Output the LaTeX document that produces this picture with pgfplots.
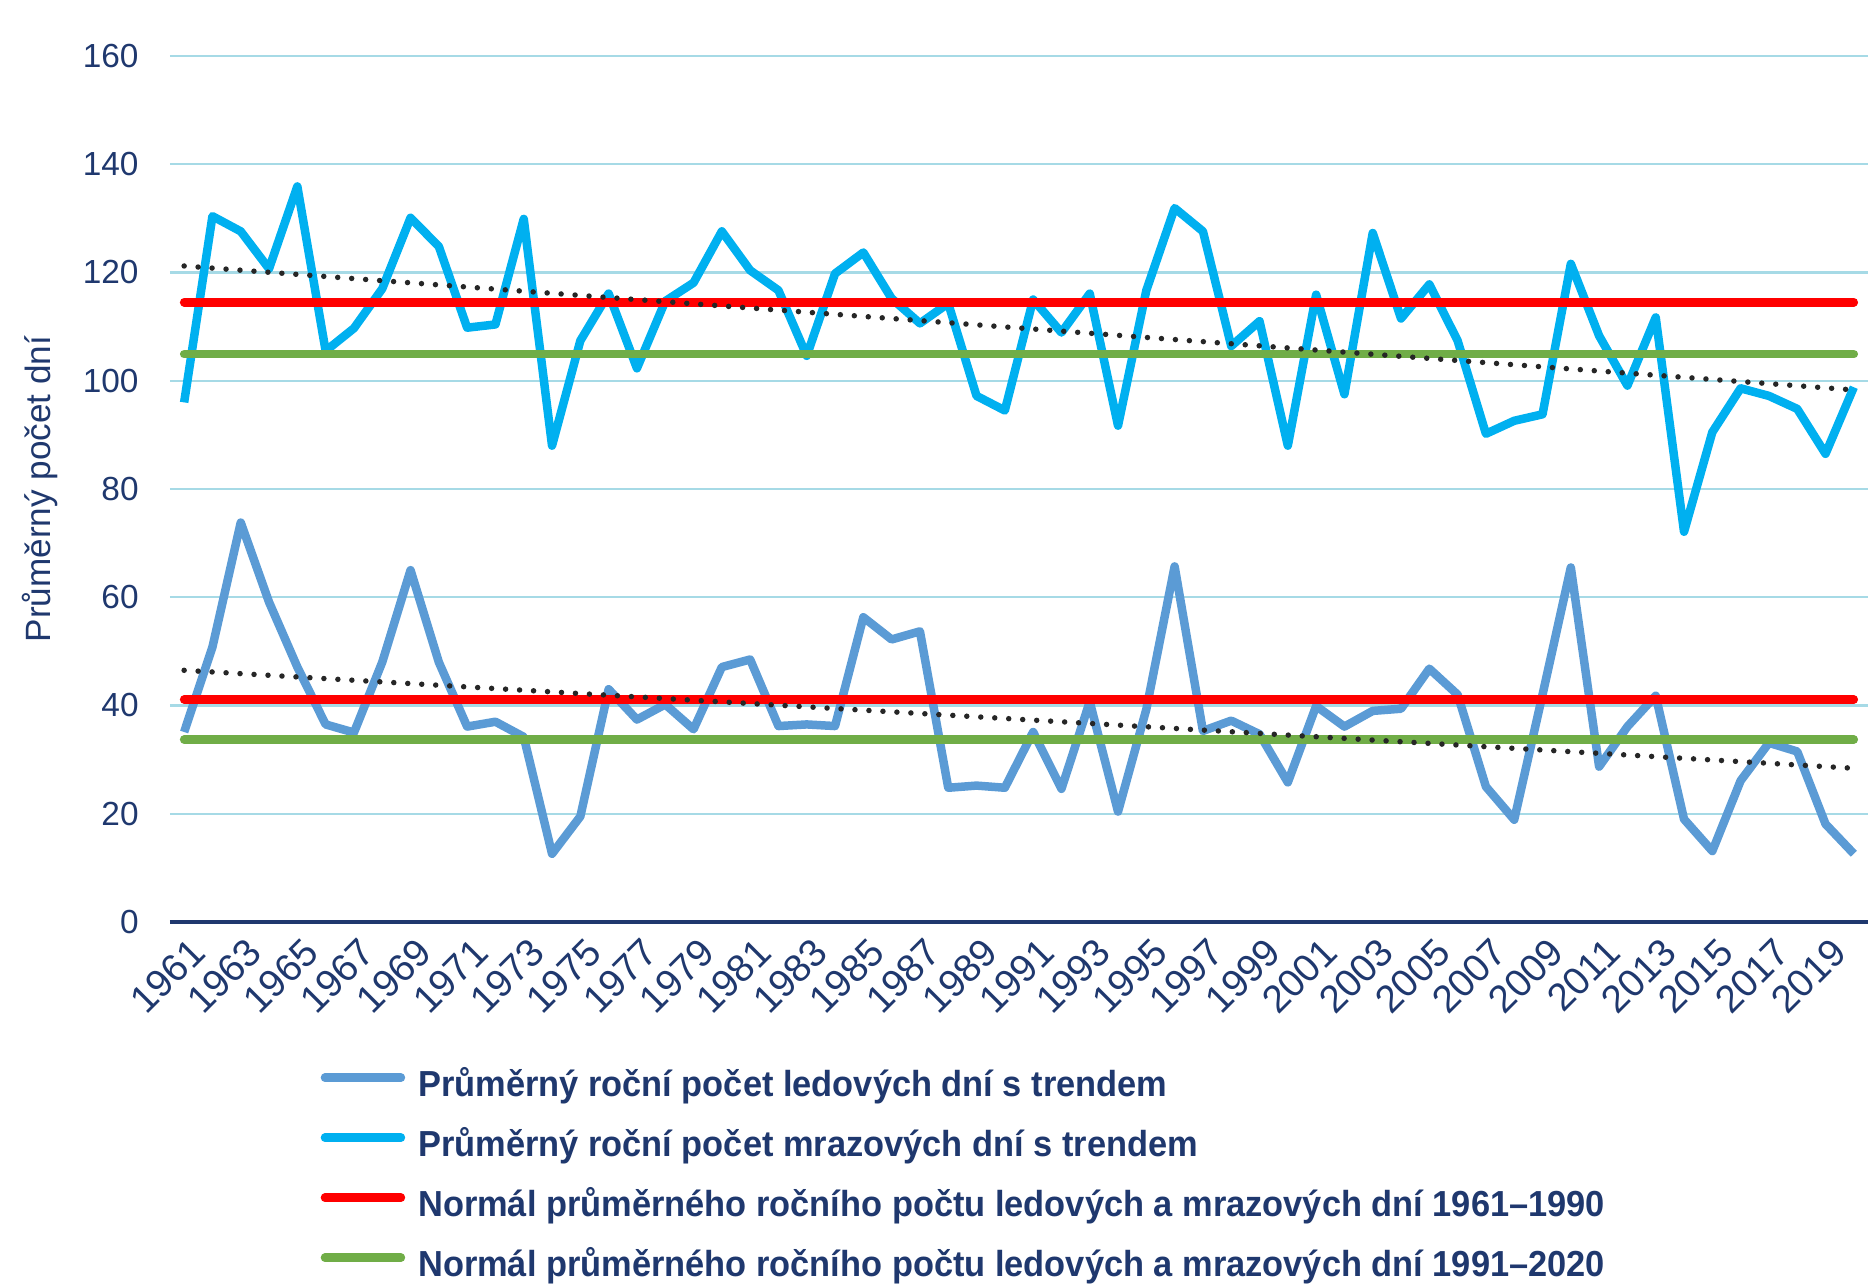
\documentclass[border=0pt]{standalone}
\usepackage{fontspec}
\setmainfont{Liberation Sans}
\newfontfamily\legfont[FakeStretch=0.95]{Liberation Sans}
\usepackage{pgfplots}
\pgfplotsset{compat=1.18}
\definecolor{navy}{RGB}{31,56,110}
\definecolor{gridc}{RGB}{166,218,230}
\definecolor{iceblue}{RGB}{91,155,213}
\definecolor{frostblue}{RGB}{0,176,240}
\definecolor{normred}{RGB}{255,0,0}
\definecolor{normgreen}{RGB}{112,173,71}

\pgfplotstableread{
year frost ice
1961 96.0 35.1
1962 130.4 50.8
1963 127.6 73.8
1964 120.7 59.1
1965 135.9 47.1
1966 105.5 36.5
1967 109.7 35.0
1968 117.0 48.0
1969 130.1 65.0
1970 124.8 48.0
1971 109.8 36.1
1972 110.4 37.0
1973 129.9 34.2
1974 88.0 12.6
1975 107.4 19.5
1976 116.1 43.0
1977 102.3 37.4
1978 114.7 40.2
1979 118.1 35.6
1980 127.6 47.1
1981 120.4 48.5
1982 116.7 36.2
1983 104.6 36.5
1984 119.8 36.2
1985 123.7 56.3
1986 115.2 52.2
1987 110.6 53.7
1988 114.3 24.8
1989 97.2 25.2
1990 94.5 24.8
1991 115.0 35.1
1992 108.9 24.6
1993 116.1 40.7
1994 91.7 20.4
1995 116.7 39.3
1996 131.9 65.7
1997 127.6 35.3
1998 106.4 37.2
1999 111.0 34.7
2000 88.0 25.8
2001 115.9 39.9
2002 97.5 36.1
2003 127.3 39.0
2004 111.5 39.4
2005 117.8 46.8
2006 107.4 42.0
2007 90.2 25.0
2008 92.6 18.9
2009 93.8 42.0
2010 121.6 65.5
2011 108.3 28.7
2012 99.1 36.1
2013 111.7 41.8
2014 72.1 19.0
2015 90.5 13.1
2016 98.6 26.1
2017 97.2 33.1
2018 94.8 31.5
2019 86.5 18.1
2020 98.8 12.6
}\datatable

\begin{document}
\begin{tikzpicture}
\path[use as bounding box] (-17mm,-36.6mm) rectangle (170.2mm,92.2mm);
\begin{axis}[
  at={(0,0)}, anchor=south west,
  scale only axis,
  width=169.8mm, height=86.6mm,
  xmin=1960.5, xmax=2020.5,
  ymin=0, ymax=160,
  ytick={0,20,...,160},
  xtick={1961,1963,...,2019},
  axis x line*=bottom,
  axis y line*=left,
  x axis line style={draw=navy, line width=1.3pt, -},
  y axis line style={draw=none},
  major tick length=0pt,
  ymajorgrids,
  grid style={draw=gridc, line width=0.7pt},
  /pgf/number format/assume math mode=true,
  /pgf/number format/1000 sep={},
  yticklabel style={font=\fontsize{9.5}{11}\selectfont, text=navy, xshift=-1.9mm},
  xticklabel style={font=\fontsize{11}{13}\selectfont, text=navy, xshift=0.4mm, yshift=-1.3mm, rotate=45, anchor=north east, inner sep=0pt},
  ylabel={Průměrný počet dní},
  ylabel style={at={(axis description cs:-0.0766,0.5)}, anchor=center, font=\fontsize{10}{12}\selectfont, text=navy},
  legend style={at={(0,0)}, anchor=north west, xshift=15mm, yshift=-14.8mm,
    draw=none, fill=none, inner sep=0pt, row sep=2.7mm, column sep=1.3mm,
    font=\legfont\bfseries\fontsize{10.3}{12}\selectfont, text=navy,
    nodes={inner sep=0pt, text height=2.6mm, text depth=0.7mm}},
  legend cell align=left,
  legend image code/.code={\draw[#1, line cap=round] (0mm,0.95mm) -- (7.6mm,0.95mm);},
  every axis plot/.append style={line join=round},
]
\addplot[iceblue, line width=0.85mm] table[x=year, y=ice] {\datatable};
\addlegendentry{Průměrný roční počet ledových dní s trendem}
\addplot[frostblue, line width=0.85mm] table[x=year, y=frost] {\datatable};
\addlegendentry{Průměrný roční počet mrazových dní s trendem}
\addplot[normred, line width=0.85mm, line cap=round] coordinates {(1961,114.5) (2020,114.5)};
\addlegendentry{Normál průměrného ročního počtu ledových a mrazových dní 1961–1990}
\addplot[normgreen, line width=0.85mm, line cap=round] coordinates {(1961,104.9) (2020,104.9)};
\addlegendentry{Normál průměrného ročního počtu ledových a mrazových dní 1991–2020}
\addplot[normred, line width=0.85mm, line cap=round, forget plot] coordinates {(1961,41.1) (2020,41.1)};
\addplot[normgreen, line width=0.85mm, line cap=round, forget plot] coordinates {(1961,33.7) (2020,33.7)};
\addplot[black!85, line width=0.55mm, line cap=round, dash pattern=on 0pt off 1.4mm, forget plot] coordinates {(1961,121.2) (2020,98.3)};
\addplot[black!85, line width=0.55mm, line cap=round, dash pattern=on 0pt off 1.4mm, forget plot] coordinates {(1961,46.5) (2020,28.4)};
\end{axis}
\end{tikzpicture}
\end{document}
